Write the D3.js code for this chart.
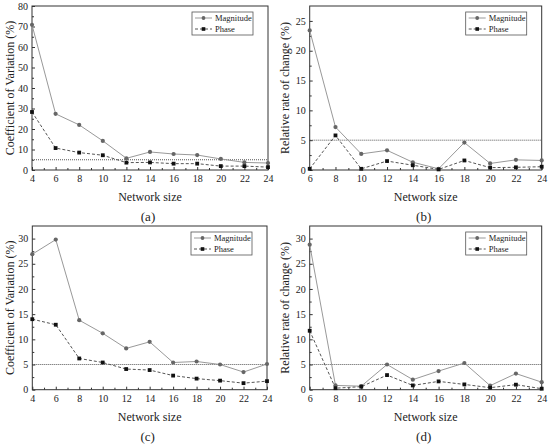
<!DOCTYPE html>
<html><head><meta charset="utf-8">
<script src="https://cdn.jsdelivr.net/npm/d3@7"></script>
<style>body{margin:0;background:#fff}svg{display:block}svg text{font-family:'Liberation Serif','DejaVu Serif',serif !important;fill:#222}</style>
</head><body>
<svg id="c" width="550" height="444" font-family="Liberation Serif"></svg>
<script>
const sizesA = [4,6,8,10,12,14,16,18,20,22,24];
const sizesB = [6,8,10,12,14,16,18,20,22,24];
const magA = [70.8,27.4,22.0,14.2,5.7,8.8,7.8,7.3,5.4,3.7,3.4];
const phaA = [28.3,10.7,8.5,7.2,3.6,3.7,3.1,3.1,1.9,1.9,1.4];
const magB = [23.4,7.2,2.7,3.3,1.3,0.2,4.6,1.1,1.7,1.6];
const phaB = [0.2,5.8,0.2,1.5,0.8,0.1,1.6,0.4,0.45,0.55];
const magC = [26.9,29.8,13.8,11.2,8.2,9.5,5.4,5.6,5.0,3.5,5.1];
const phaC = [14.0,12.9,6.2,5.4,4.1,3.9,2.8,2.2,1.8,1.3,1.7];
const magD = [28.8,0.85,0.7,5.0,2.0,3.7,5.3,0.8,3.2,1.5];
const phaD = [11.7,0.3,0.6,2.9,0.85,1.65,1.05,0.4,1.0,0.2];
const threshold = 5;
const seriesNames = ["Magnitude","Phase"];
const panelLabels = ["(a)","(b)","(c)","(d)"];
const yTitles = ["Coefficient of Variation (%)","Relative rate of change (%)","Coefficient of Variation (%)","Relative rate of change (%)"];
const xTitle = "Network size";

const panels = [
  {x:sizesA, m:magA, p:phaA, ymax:80, ystep:10, minor:5, box:[32,268,6,170], yt:10, lab:panelLabels[0], title:yTitles[0]},
  {x:sizesB, m:magB, p:phaB, ymax:27.5, ystep:5, minor:2.5, box:[309.7,541.7,6,170], yt:285, lab:panelLabels[1], title:yTitles[1]},
  {x:sizesA, m:magC, p:phaC, ymax:32.5, ystep:5, minor:2.5, box:[32.3,267,226,389.7], yt:10, lab:panelLabels[2], title:yTitles[2]},
  {x:sizesB, m:magD, p:phaD, ymax:32.5, ystep:5, minor:2.5, box:[309.7,541.7,226,389.7], yt:285, lab:panelLabels[3], title:yTitles[3]}
];
const svg = d3.select("#c");
panels.forEach(P=>{
  const [l,r,t,b] = P.box;
  const x = d3.scaleLinear().domain([P.x[0], 24]).range([l,r]);
  const y = d3.scaleLinear().domain([0,P.ymax]).range([b,t]);
  const g = svg.append("g");
  g.append("line").attr("x1",l).attr("x2",r).attr("y1",y(threshold)).attr("y2",y(threshold))
    .attr("stroke","#555").attr("stroke-width",1).attr("stroke-dasharray","1,1");
  const yt = d3.range(0,P.ymax+0.01,P.ystep);
  const ax = d3.axisBottom(x).tickValues(P.x.filter(v=>v%2===0)).tickSize(-3).tickPadding(5).tickFormat(d3.format("d"));
  const ay = d3.axisLeft(y).tickValues(yt).tickSize(-3).tickPadding(4).tickFormat(d3.format("d"));
  const ayMinor = d3.axisLeft(y).tickValues(d3.range(P.minor,P.ymax,P.ystep)).tickSize(-2).tickFormat("");
  const axMinor = d3.axisBottom(x).tickValues(d3.range(P.x[0]+1,24,2)).tickSize(-2).tickFormat("");
  g.append("g").attr("transform",`translate(0,${b})`).call(ax).attr("font-family",null);
  g.append("g").attr("transform",`translate(0,${b})`).call(axMinor).attr("font-family",null).select(".domain").remove();
  g.append("g").attr("transform",`translate(${l},0)`).call(ay).attr("font-family",null);
  g.append("g").attr("transform",`translate(${l},0)`).call(ayMinor).attr("font-family",null).select(".domain").remove();
  g.selectAll(".tick line").attr("stroke","#333");
  g.selectAll(".tick text").attr("font-size",10).attr("fill","#222");
  g.selectAll(".domain").remove();
  g.append("rect").attr("x",l).attr("y",t).attr("width",r-l).attr("height",b-t)
    .attr("fill","none").attr("stroke","#333").attr("stroke-width",1);
  const line = d3.line().x((d,i)=>x(P.x[i])).y(d=>y(d));
  g.append("path").datum(P.m).attr("d",line).attr("fill","none").attr("stroke","#999").attr("stroke-width",1);
  g.append("path").datum(P.p).attr("d",line).attr("fill","none").attr("stroke","#555").attr("stroke-width",1).attr("stroke-dasharray","3,2");
  g.selectAll(".mc").data(P.m).enter().append("circle").attr("cx",(d,i)=>x(P.x[i])).attr("cy",d=>y(d)).attr("r",2.1).attr("fill","#666");
  g.selectAll(".ps").data(P.p).enter().append("rect").attr("x",(d,i)=>x(P.x[i])-1.9).attr("y",d=>y(d)-1.9).attr("width",3.8).attr("height",3.8).attr("fill","#111");
  const lx = r-76, ly = t+6;
  g.append("rect").attr("x",lx).attr("y",ly).attr("width",61).attr("height",23).attr("fill","#fff").attr("stroke","#555").attr("stroke-width",0.8);
  [0,1].forEach(k=>{
    const yy = ly+6+k*11;
    g.append("line").attr("x1",lx+3).attr("x2",lx+20).attr("y1",yy).attr("y2",yy)
      .attr("stroke",k?"#555":"#999").attr("stroke-dasharray",k?"3,2":null);
    if(k) g.append("rect").attr("x",lx+9.7).attr("y",yy-1.8).attr("width",3.6).attr("height",3.6).attr("fill","#111");
    else g.append("circle").attr("cx",lx+11.5).attr("cy",yy).attr("r",1.9).attr("fill","#666");
    g.append("text").attr("x",lx+23).attr("y",yy+3).attr("font-size",8.5).text(seriesNames[k]);
  });
  g.append("text").attr("x",(l+r)/2).attr("y",b+31).attr("text-anchor","middle").attr("font-size",12).text(xTitle);
  g.append("text").attr("transform",`translate(${P.yt+4},${(t+b)/2}) rotate(-90)`).attr("text-anchor","middle").attr("font-size",12).text(P.title);
  g.append("text").attr("x",(l+r)/2-2).attr("y",b+51).attr("text-anchor","middle").attr("font-size",13).text(P.lab);
});
</script>
</body></html>
